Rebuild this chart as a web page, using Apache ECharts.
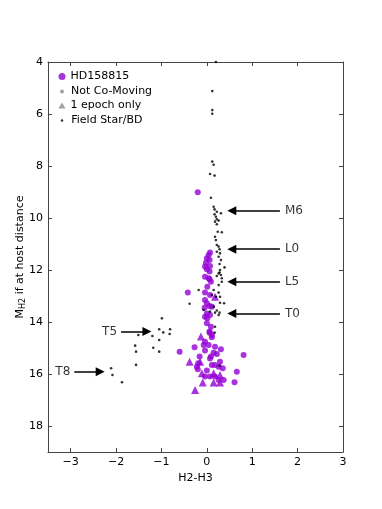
<!DOCTYPE html>
<html><head><meta charset="utf-8">
<script src="https://cdn.jsdelivr.net/npm/echarts@6/dist/echarts.min.js"></script>
<style>html,body{margin:0;padding:0;background:#fff}#c{width:382px;height:509px}</style>
</head><body><div id="c"></div>
<script>
// ---- data ----
const xTicks = [-3, -2, -1, 0, 1, 2, 3];
const yTicks = [4, 6, 8, 10, 12, 14, 16, 18];

const hd158815 = [[-0.2,9.01],[0.07,11.33],[0.04,11.42],[0,11.55],[0.06,11.62],[-0.02,11.72],[-0.04,11.87],[0.07,11.85],[0,11.97],[0.06,12.06],[-0.04,12.26],[0.04,12.32],[0.06,12.36],[0.09,12.45],[0.01,12.64],[-0.42,12.87],[-0.04,12.87],[0.07,12.96],[-0.04,13.15],[0,13.28],[0.06,13.38],[0.11,13.41],[-0.05,13.45],[0,13.67],[0.07,13.73],[-0.04,13.8],[0.01,13.86],[0,14.05],[0.09,14.18],[0.06,14.37],[0.11,14.5],[0.06,14.41],[0.11,14.59],[-0.04,14.76],[-0.07,14.88],[0.04,14.88],[-0.27,14.97],[0.18,14.95],[-0.6,15.14],[-0.04,15.1],[0.15,15.18],[0.31,15.05],[0.81,15.27],[0.09,15.33],[0.22,15.23],[-0.16,15.33],[-0.19,15.59],[0.07,15.4],[-0.22,15.72],[0.29,15.53],[0.18,15.65],[0.11,15.65],[0.26,15.72],[0.35,15.78],[-0.2,15.82],[0.66,15.91],[0,15.87],[0.07,16.1],[-0.04,16.1],[0.18,16.1],[0.37,16.23],[0.61,16.32],[0.26,16.23]];

const notCoMoving = [];

const oneEpoch = [[0.18,13.03],[-0.13,14.56],[-0.38,15.53],[-0.15,15.53],[-0.11,15.97],[0.15,15.97],[0.29,16.04],[-0.09,16.33],[0.15,16.33],[0.29,16.33],[-0.26,16.62]];

const fieldStars = [[0.2,4.0],[0.12,5.12],[0.12,5.85],[0.12,5.99],[0.12,7.83],[0.15,7.95],[0.07,8.31],[0.17,8.37],[0.09,9.22],[0.15,9.57],[0.17,9.67],[0.22,9.76],[0.31,9.82],[0.17,9.86],[0.2,9.95],[0.22,10.05],[0.26,10.1],[0.18,10.14],[0.22,10.24],[0.24,10.53],[0.33,10.55],[0.18,10.72],[0.2,10.85],[0.22,11.04],[0.26,11.1],[0.28,11.2],[0.22,11.3],[0.29,11.36],[0.26,11.49],[0.31,11.62],[0.28,11.77],[0.39,11.9],[0.29,12.0],[0.28,12.1],[0.31,12.19],[0.33,12.32],[0.26,12.13],[0.22,12.23],[0.33,12.45],[0.26,12.58],[-0.18,12.77],[0.15,12.77],[0.26,12.87],[0.11,12.96],[0.2,13.03],[0.29,13.03],[-0.38,13.3],[0.29,13.26],[0.38,13.28],[-0.07,13.54],[0.15,13.41],[0.22,13.56],[0.28,13.64],[0.18,13.64],[0.07,13.6],[0.26,13.73],[0.18,14.18],[0.17,14.41],[-0.99,13.86],[-1.05,14.28],[-0.96,14.4],[-0.81,14.28],[-0.82,14.46],[-1.2,14.54],[-1.51,14.5],[-1.05,14.69],[-1.58,14.91],[-1.18,14.99],[-1.56,15.14],[-1.05,15.14],[-1.56,15.65],[-2.11,15.78],[-2.08,16.04],[-1.87,16.32],[0.28,15.68]];

const arrowNames = ['M6', 'L0', 'L5', 'T0', 'T5', 'T8'];
const arrowY     = [9.72, 11.2, 12.45, 13.67, 14.37, 15.91];
const arrowTailX = [1.61, 1.61, 1.61, 1.61, -1.89, -2.92];
const arrowTipX  = [0.55, 0.55, 0.55, 0.55, -1.32, -2.35];

// ---- chart ----
const PURPLE = '#9400d3';
const GRAY = '#888888';
const FONT = 'DejaVu Sans';
const fmt = v => (v < 0 ? '\u2212' + Math.abs(v) : String(v));

const arrowLines = arrowNames.map((n, i) => ({ coords: [[arrowTailX[i], arrowY[i]], [arrowTipX[i], arrowY[i]]] }));
const arrowLabels = arrowNames.map((n, i) => ({
  name: n, value: [arrowTailX[i], arrowY[i]],
  label: { position: arrowTailX[i] > 0 ? 'right' : 'left', distance: arrowTailX[i] > 0 ? 5 : 4 }
}));

const axisCommon = {
  axisLine: { show: true, onZero: false, lineStyle: { color: '#444', width: 1 } },
  splitLine: { show: false }
};

function legendAt(item, top, w, h, padLeft) {
  return {
    orient: 'vertical', left: 57 - w / 2, top: top, itemWidth: w, itemHeight: h,
    data: [item], selectedMode: false,
    textStyle: { fontFamily: FONT, fontSize: 11, color: '#000', padding: [0, 0, 0, padLeft] }
  };
}

const chart = echarts.init(document.getElementById('c'), null, { renderer: 'canvas' });
chart.setOption({
  animation: false,
  backgroundColor: '#fff',
  grid: { left: 48, right: 39, top: 62, bottom: 57 },
  legend: [
    legendAt('HD158815', 66, 7, 7, 0),
    legendAt('Not Co-Moving', 81, 4, 4, 2),
    legendAt({ name: '1 epoch only', itemStyle: { color: GRAY } }, 95, 7, 6, 0),
    legendAt('Field Star/BD', 110, 2.5, 2.5, 3)
  ],
  xAxis: [
    Object.assign({
      type: 'value', min: -3.5, max: 3, position: 'bottom',
      name: 'H2-H3', nameLocation: 'middle', nameGap: 20,
      nameTextStyle: { fontFamily: FONT, fontSize: 11, color: '#000' },
      axisTick: { show: true, inside: true, length: 4, customValues: xTicks, lineStyle: { color: '#444' } },
      axisLabel: { customValues: xTicks, formatter: fmt, fontFamily: FONT, fontSize: 11, color: '#000', margin: 5 }
    }, axisCommon),
    Object.assign({
      type: 'value', min: -3.5, max: 3, position: 'top',
      axisTick: { show: true, inside: true, length: 4, customValues: xTicks, lineStyle: { color: '#444' } },
      axisLabel: { show: false, customValues: xTicks }
    }, axisCommon)
  ],
  yAxis: [
    Object.assign({
      type: 'value', min: 4, max: 19, inverse: true, position: 'left',
      name: '{m|M}{s|H2}{m| if at host distance}', nameLocation: 'middle', nameGap: 21, nameRotate: 90,
      nameMoveOverlap: false,
      nameTextStyle: { fontFamily: FONT, fontSize: 11, color: '#000',
        rich: { m: { fontFamily: FONT, fontSize: 11, color: '#000', lineHeight: 14 },
                s: { fontFamily: FONT, fontSize: 8, color: '#000', lineHeight: 14, verticalAlign: 'bottom', padding: [4, 0, 0, 0] } } },
      axisTick: { show: true, inside: true, length: 4, customValues: yTicks, lineStyle: { color: '#444' } },
      axisLabel: { customValues: yTicks, formatter: fmt, fontFamily: FONT, fontSize: 11, color: '#000', margin: 5 }
    }, axisCommon),
    Object.assign({
      type: 'value', min: 4, max: 19, inverse: true, position: 'right',
      axisTick: { show: true, inside: true, length: 4, customValues: yTicks, lineStyle: { color: '#444' } },
      axisLabel: { show: false, customValues: yTicks }
    }, axisCommon)
  ],
  series: [
    { name: 'HD158815', type: 'scatter', data: hd158815, symbol: 'circle', symbolSize: 6,
      itemStyle: { color: PURPLE }, z: 3 },
    { name: 'Not Co-Moving', type: 'scatter', data: notCoMoving, symbol: 'circle', symbolSize: 4,
      itemStyle: { color: GRAY } },
    { name: '1 epoch only', type: 'scatter', data: oneEpoch, symbol: 'triangle', symbolSize: 8,
      itemStyle: { color: PURPLE }, z: 3 },
    { name: 'Field Star/BD', type: 'scatter', data: fieldStars, symbol: 'circle', symbolSize: 2.6,
      itemStyle: { color: '#000' }, clip: false, z: 4 },
    { name: 'arrows', type: 'lines', coordinateSystem: 'cartesian2d', data: arrowLines,
      symbol: ['none', 'triangle'], symbolSize: 9,
      lineStyle: { color: '#000', width: 1.5, opacity: 1 }, itemStyle: { color: '#000' }, z: 5 },
    { name: 'arrowText', type: 'scatter', data: arrowLabels, symbolSize: 0,
      label: { show: true, formatter: '{b}', fontFamily: FONT, fontSize: 12, color: '#000' }, z: 5 }
  ]
});
</script>
</body></html>
